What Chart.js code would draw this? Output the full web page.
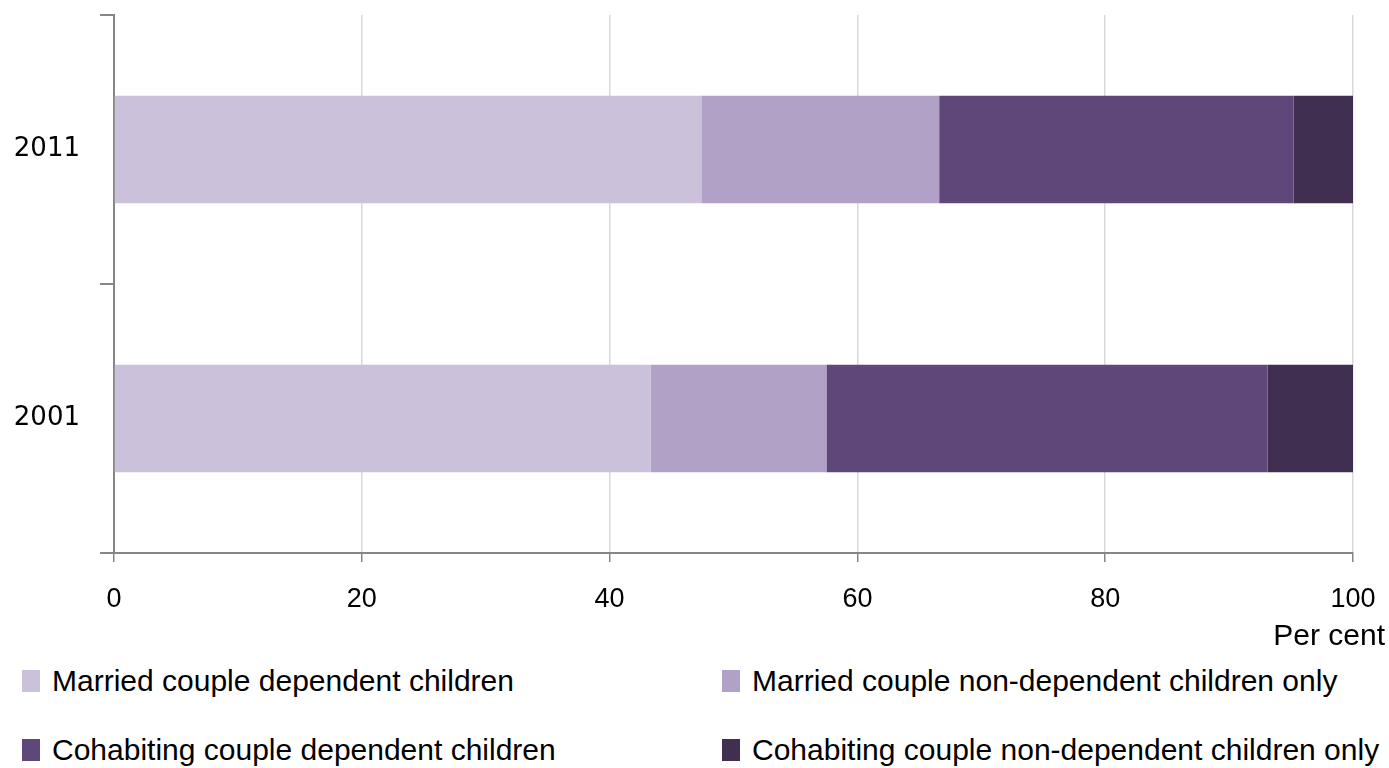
<!DOCTYPE html>
<html>
<head>
<meta charset="utf-8">
<script src="https://cdn.jsdelivr.net/npm/chart.js@4.4.0/dist/chart.umd.min.js"></script>
<style>
    body { margin: 0; background: #fff; width: 1389px; height: 768px; overflow: hidden; position: relative; }
    #wrap { position: absolute; left: 0; top: 0; width: 1389px; height: 620px; }
    #unit { position: absolute; right: 4px; top: 618px; font: 30px "Liberation Sans", sans-serif; color: #000; }
    #legend { position: absolute; left: 22px; top: 664px; width: 1367px; display: grid; grid-template-columns: 700px 667px; row-gap: 35px; }
    .item { display: flex; align-items: center; font: 30px "Liberation Sans", sans-serif; color: #000; white-space: nowrap; }
    .box { width: 18px; height: 22px; margin-right: 12px; }
</style>
</head>
<body>
<div id="wrap"><canvas id="chart"></canvas></div>
<div id="unit">Per cent</div>
<div id="legend"></div>
<script>
const years = ['2011', '2001'];
const seriesNames = [
    'Married couple dependent children',
    'Married couple non-dependent children only',
    'Cohabiting couple dependent children',
    'Cohabiting couple non-dependent children only'
];
const marriedDep = [47.4, 43.3];
const marriedNonDep = [19.2, 14.2];
const cohabDep = [28.6, 35.6];
const cohabNonDep = [4.8, 6.9];
const xTicks = [0, 20, 40, 60, 80, 100];
const colours = ['#cbc1db', '#b1a1c6', '#5f4879', '#402f51'];

const values = [marriedDep, marriedNonDep, cohabDep, cohabNonDep];

const ctx = document.getElementById('chart').getContext('2d');
const chart = new Chart(ctx, {
    type: 'bar',
    data: {
        labels: years,
        datasets: values.map((v, i) => ({
            label: seriesNames[i],
            data: v,
            backgroundColor: colours[i],
            borderWidth: 0,
            categoryPercentage: 0.8,
            barPercentage: 0.5
        }))
    },
    options: {
        indexAxis: 'y',
        responsive: true,
        maintainAspectRatio: false,
        animation: false,
        layout: { padding: { top: 15, right: 36, left: 0, bottom: 0 } },
        plugins: { legend: { display: false }, tooltip: { enabled: false } },
        scales: {
            x: {
                stacked: true,
                min: 0,
                max: 100,
                afterBuildTicks: (s) => { s.ticks = xTicks.map(v => ({ value: v })); },
                afterFit: (s) => { s.height = 67; s.paddingLeft = 0; s.paddingRight = 0; },
                grid: { color: '#d9d9d9', tickColor: '#868686', tickLength: 9, lineWidth: 1.5 },
                border: { color: '#868686', width: 2 },
                ticks: { color: '#000', padding: 21, font: { family: 'Liberation Sans', size: 27 } }
            },
            y: {
                stacked: true,
                afterFit: (s) => { s.width = 114; s.paddingTop = 0; s.paddingBottom = 0; },
                grid: { drawOnChartArea: false, offset: true, tickColor: '#868686', tickLength: 14, lineWidth: 2 },
                border: { color: '#868686', width: 2 },
                ticks: { color: '#000', padding: 20, font: { family: 'DejaVu Sans', size: 26 } }
            }
        }
    }
});

// legend in two columns, built from the datasets
const legend = document.getElementById('legend');
chart.data.datasets.forEach(ds => {
    const item = document.createElement('div');
    item.className = 'item';
    item.innerHTML = '<span class="box" style="background:' + ds.backgroundColor + '"></span>' + ds.label;
    legend.appendChild(item);
});
</script>
</body>
</html>
